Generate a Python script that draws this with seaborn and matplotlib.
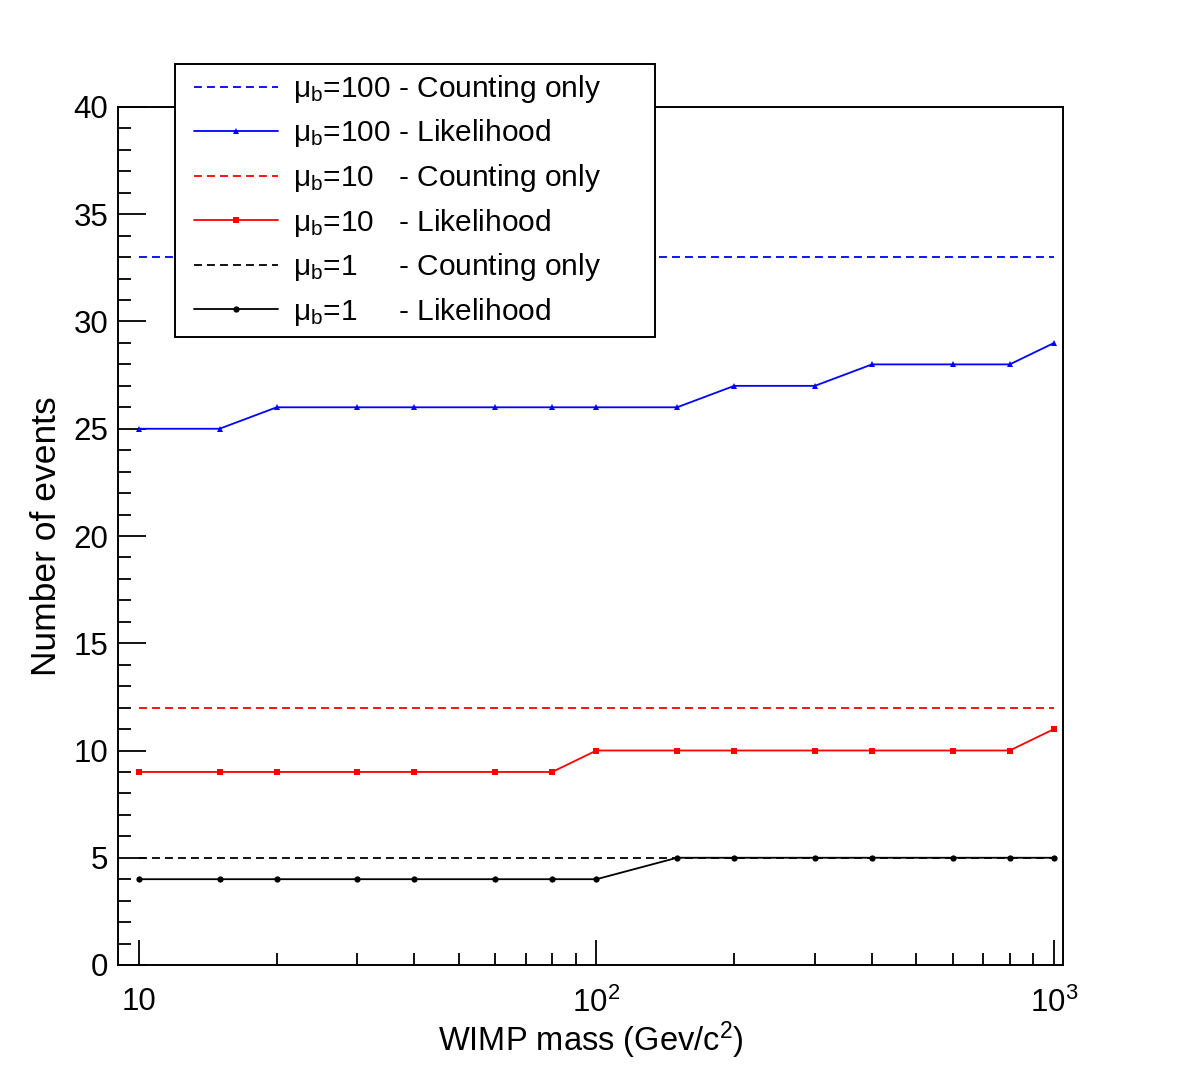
import numpy as np
import pandas as pd
import matplotlib
matplotlib.use("Agg")
import matplotlib.pyplot as plt
import seaborn as sns
from matplotlib.ticker import FixedLocator, NullFormatter
from matplotlib.legend_handler import HandlerLine2D

# WIMP masses (GeV/c^2)
masses = [10, 15, 20, 30, 40, 60, 80, 100, 150, 200, 300, 400, 600, 800, 1000]

# likelihood results per background level
lik_100 = [25, 25, 26, 26, 26, 26, 26, 26, 26, 27, 27, 28, 28, 28, 29]
lik_10 = [9, 9, 9, 9, 9, 9, 9, 10, 10, 10, 10, 10, 10, 10, 11]
lik_1 = [4, 4, 4, 4, 4, 4, 4, 4, 5, 5, 5, 5, 5, 5, 5]

# counting-only limits (flat in mass)
count_100 = 33
count_10 = 12
count_1 = 5

sns.set_style("ticks")
plt.rcParams['font.family'] = ['Liberation Sans', 'DejaVu Sans']
plt.rcParams['mathtext.fontset'] = 'custom'
plt.rcParams['mathtext.rm'] = 'Liberation Sans'
plt.rcParams['mathtext.it'] = 'Liberation Sans'
for key in ['text.color', 'axes.labelcolor', 'xtick.color', 'ytick.color', 'axes.edgecolor']:
    plt.rcParams[key] = 'black'

fig = plt.figure(figsize=(11.82, 10.73), dpi=100)
ax = fig.add_axes([118 / 1182, 1 - 965 / 1073, 945 / 1182, 858 / 1073])

series = [
    ("blue", count_100, lik_100, "^", r"$\mu_{b}$=100 - "),
    ("red", count_10, lik_10, "s", r"$\mu_{b}$=10   - "),
    ("black", count_1, lik_1, "o", r"$\mu_{b}$=1     - "),
]

handles = []
labels = []
for color, cnt, lik, mk, lab in series:
    df = pd.DataFrame({"mass": masses, "count": np.full(len(masses), cnt), "lik": lik})
    sns.lineplot(data=df, x="mass", y="count", ax=ax, color=color, lw=1.3,
                 linestyle=(0, (4.4, 2.8)), legend=False)
    h1 = ax.lines[-1]
    sns.lineplot(data=df, x="mass", y="lik", ax=ax, color=color, lw=1.3,
                 marker=mk, markersize=4.5, markeredgewidth=0, legend=False)
    h2 = ax.lines[-1]
    handles += [h1, h2]
    labels += [lab + "Counting only", lab + "Likelihood"]

ax.set_xscale("log")
ax.set_xlim(9.0, 1046)
ax.set_ylim(0, 40)

ax.xaxis.set_major_locator(FixedLocator([10, 100, 1000]))
ax.set_xticklabels(["10", "$10^{2}$", "$10^{3}$"])
minor_x = [m * d for d in (10, 100) for m in range(2, 10)]
ax.xaxis.set_minor_locator(FixedLocator(minor_x))
ax.xaxis.set_minor_formatter(NullFormatter())
ax.set_yticks(np.arange(0, 41, 5))
ax.set_yticks(np.arange(0, 41, 1), minor=True)

ax.tick_params(axis="both", which="both", direction="in", top=False, right=False,
               width=1.3, color="black")
ax.tick_params(axis="y", which="major", length=20, pad=7, labelsize=22.5)
ax.tick_params(axis="y", which="minor", length=9.4)
ax.tick_params(axis="x", which="major", length=18, pad=16, labelsize=22.5)
ax.tick_params(axis="x", which="minor", length=9)

for sp in ax.spines.values():
    sp.set_linewidth(1.4)
    sp.set_color("black")

ax.set_xlabel("WIMP mass (Gev/c$^{2}$)", fontsize=23.5)
ax.set_ylabel("Number of events", fontsize=25.5)
ax.xaxis.set_label_coords(0.5, -0.064)
ax.yaxis.set_label_coords(-0.0586, 0.5)

hmap = {h: HandlerLine2D(numpoints=1, xpad=0.35) for h in handles}
leg = fig.legend(handles, labels, loc="upper left",
                 bbox_to_anchor=(175 / 1182, 1 - 64 / 1073, 480 / 1182, 0.0),
                 mode="expand", borderaxespad=0, fontsize=21.5, frameon=True,
                 fancybox=False, framealpha=1, edgecolor="black",
                 handlelength=3.16, handletextpad=0.5, labelspacing=0.42,
                 borderpad=0.3, handler_map=hmap)
leg.get_frame().set_linewidth(1.4)

fig.savefig("out.png", dpi=100)
